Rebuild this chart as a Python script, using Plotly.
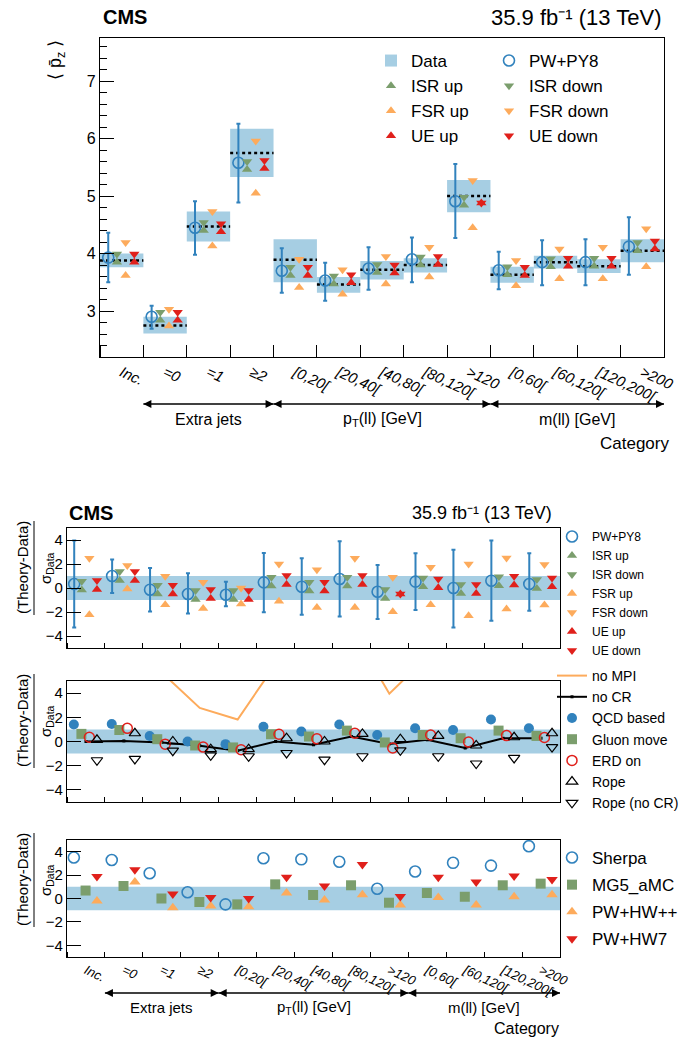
import numpy as np
import plotly.graph_objects as go

# ---------------- data ----------------
categories = ["Inc.", "=0", "=1", "\u22652", "[0,20[", "[20,40[", "[40,80[", "[80,120[", ">120",
              "[0,60[", "[60,120[", "[120,200[", ">200"]
group_names = ["Extra jets", "p<sub>T</sub>(ll) [GeV]", "m(ll) [GeV]"]
group_first_bin = [1, 4, 9]
group_last_bin = [3, 8, 12]

# top panel: <p_z>
data_val = [3.88, 2.75, 4.47, 5.75, 3.89, 3.46, 3.72, 3.80, 5.00, 3.63, 3.85, 3.78, 4.05]
data_lo = [3.76, 2.61, 4.21, 5.33, 3.50, 3.32, 3.55, 3.67, 4.72, 3.49, 3.74, 3.66, 3.85]
data_hi = [4.00, 2.90, 4.73, 6.17, 4.25, 3.59, 3.87, 3.92, 5.28, 3.77, 3.96, 3.90, 4.25]
pwpy8 = [3.93, 2.90, 4.45, 5.58, 3.70, 3.53, 3.74, 3.90, 4.91, 3.71, 3.85, 3.85, 4.12]
pwpy8_lo = [3.50, 2.69, 3.98, 4.89, 3.32, 3.18, 3.37, 3.50, 4.27, 3.38, 3.45, 3.45, 3.63]
pwpy8_hi = [4.36, 3.09, 4.91, 6.26, 4.09, 3.84, 4.11, 4.28, 5.56, 4.03, 4.23, 4.25, 4.63]
isr_up = [3.85, 2.84, 4.40, 5.46, 3.62, 3.47, 3.67, 3.80, 4.84, 3.63, 3.77, 3.78, 4.05]
isr_down = [3.99, 2.98, 4.54, 5.60, 3.76, 3.61, 3.81, 3.94, 4.98, 3.77, 3.91, 3.92, 4.19]
fsr_up = [3.62, 2.74, 4.13, 5.05, 3.41, 3.29, 3.47, 3.59, 4.45, 3.44, 3.56, 3.56, 3.77]
fsr_down = [4.19, 3.03, 4.73, 5.96, 3.90, 3.72, 3.95, 4.11, 5.27, 3.88, 4.08, 4.11, 4.43]
ue_up = [3.85, 2.84, 4.38, 5.48, 3.62, 3.49, 3.66, 3.81, 4.88, 3.62, 3.78, 3.78, 4.08]
ue_down = [3.99, 2.98, 4.52, 5.62, 3.76, 3.63, 3.80, 3.95, 4.88, 3.76, 3.92, 3.92, 4.22]

# ratio panel 1: (Theory-Data)/sigma
r_pwpy8 = [0.33, 1.00, -0.14, -0.50, -0.56, 0.47, 0.11, 0.75, -0.31, 0.53, 0.00, 0.61, 0.33]
r_pwpy8_lo = [-3.29, -0.42, -1.95, -2.12, -1.53, -2.03, -2.23, -2.37, -2.59, -1.84, -3.29, -2.73, -1.89]
r_pwpy8_hi = [3.96, 2.37, 1.67, 1.23, 0.53, 2.92, 2.48, 3.90, 1.92, 2.90, 3.18, 3.96, 2.90]
r_isr_up = [-0.17, 0.63, -0.51, -0.95, -0.95, 0.16, -0.26, 0.16, -0.87, 0.10, -0.45, 0.19, -0.04]
r_isr_down = [0.57, 1.37, 0.23, -0.21, -0.21, 0.90, 0.48, 0.90, -0.13, 0.84, 0.29, 0.93, 0.70]
r_fsr_up = [-2.23, -0.08, -1.39, -1.70, -1.34, -1.11, -1.62, -1.62, -1.98, -1.39, -2.31, -1.75, -1.42]
r_fsr_down = [2.48, 1.87, 0.97, 0.47, 0.00, 2.00, 1.53, 2.48, 0.89, 1.73, 2.00, 2.50, 1.95]
r_ue_up = [-0.12, 0.63, -0.51, -0.87, -0.95, 0.30, -0.26, 0.30, -0.50, 0.02, -0.45, 0.24, 0.10]
r_ue_down = [0.62, 1.37, 0.23, -0.13, -0.21, 1.04, 0.48, 1.04, -0.50, 0.76, 0.29, 0.98, 0.84]

# ratio panel 2: colour reconnection / MPI
r_no_mpi = [12.0, 10.0, 5.7, 2.78, 1.82, 6.4, 8.5, 9.3, 3.95, 7.0, 9.0, 10.0, 9.0]
r_no_cr = [0.00, 0.05, -0.08, -0.35, -0.76, 0.00, -0.27, 0.41, -0.20, 0.14, -0.54, 0.27, 0.27]
r_qcd = [1.41, 1.44, 0.46, 0.00, -0.22, 1.22, 0.82, 1.41, 0.54, 1.09, 0.95, 1.82, 1.09]
r_gluon = [0.63, 0.95, 0.19, -0.33, -0.49, 0.60, 0.41, 0.90, -0.08, 0.54, 0.27, 0.90, 0.46]
r_erd = [0.35, 1.09, -0.22, -0.46, -0.68, 0.60, 0.22, 0.68, -0.54, 0.54, -0.05, 0.49, 0.33]
r_rope = [0.14, 0.68, 0.00, -0.63, -0.63, 0.27, 0.00, 0.63, 0.19, 0.46, -0.33, 0.35, 0.68]
r_rope_nocr = [-1.55, -1.44, -0.76, -1.14, -1.22, -0.95, -1.50, -1.22, -0.73, -1.22, -1.82, -1.36, -0.46]

# ratio panel 3: other generators
r_sherpa = [3.50, 3.29, 2.16, 0.53, -0.50, 3.44, 3.35, 3.14, 0.83, 2.31, 3.05, 2.81, 4.47]
r_mg5 = [0.68, 1.07, 0.00, -0.30, -0.50, 1.21, 0.30, 1.13, -0.36, 0.47, 0.15, 1.13, 1.27]
r_hwpp = [-0.21, 1.42, -0.80, -0.65, -0.71, 0.47, -0.12, 0.33, -0.56, 0.09, -0.56, 0.15, 0.33]
r_hw7 = [1.87, 2.46, 0.39, 0.09, 0.00, 1.81, 1.07, 2.90, 0.18, 1.81, 1.42, 1.93, 1.63]

band = [-1.0, 1.0]

# ---------------- style ----------------
W, H = 685, 1037
FONT = "Liberation Sans, Arial, Helvetica, sans-serif"
BLUE = "#3182bd"
BOX = "#a6cee3"
GREEN = "#7b9e6d"
ORANGE = "#fdab5c"
RED = "#e0201b"

n = len(categories)
idx = np.arange(n)
centers = idx + 0.5
edges = np.arange(n + 1)
off = dict(a=0.19, b=0.39, c=0.59, d=0.79)


def px(x):
    return x / W


def py(y):
    return 1 - y / H


fig = go.Figure()

# ---------- top panel ----------
fig.add_trace(go.Bar(x=centers, base=data_lo, y=np.array(data_hi) - np.array(data_lo), width=1.0,
                     marker=dict(color=BOX, line=dict(width=0)), name="Data",
                     legend="legend", xaxis="x", yaxis="y"))
seg_x, seg_y = [], []
for i in range(n):
    seg_x += [edges[i], edges[i + 1], None]
    seg_y += [data_val[i], data_val[i], None]
fig.add_trace(go.Scatter(x=seg_x, y=seg_y, mode="lines", line=dict(color="black", width=2.5, dash="dot"),
                         showlegend=False, xaxis="x", yaxis="y"))

TRI = 9


def tri(xv, yv, sym, col, name, leg, grp=None, xa="x", ya="y", size=TRI, show=True):
    return go.Scatter(x=xv, y=yv, mode="markers", name=name,
                      marker=dict(symbol=sym, color=col, size=size, line=dict(width=0)),
                      legend=leg, legendgroup=grp, showlegend=show, xaxis=xa, yaxis=ya)


pw = np.array(pwpy8)
fig.add_trace(go.Scatter(x=idx + off["a"], y=pwpy8, mode="markers", name="PW+PY8",
                         marker=dict(symbol="circle-open", color=BLUE, size=11, line=dict(width=1.6)),
                         error_y=dict(type="data", symmetric=False, array=np.array(pwpy8_hi) - pw,
                                      arrayminus=pw - np.array(pwpy8_lo), color=BLUE, thickness=2, width=2),
                         legend="legend2", xaxis="x", yaxis="y"))
fig.add_trace(tri(idx + off["b"], isr_up, "triangle-up", GREEN, "ISR up", "legend"))
fig.add_trace(tri(idx + off["b"], isr_down, "triangle-down", GREEN, "ISR down", "legend2"))
fig.add_trace(tri(idx + off["c"], fsr_up, "triangle-up", ORANGE, "FSR up", "legend"))
fig.add_trace(tri(idx + off["c"], fsr_down, "triangle-down", ORANGE, "FSR down", "legend2"))
fig.add_trace(tri(idx + off["d"], ue_up, "triangle-up", RED, "UE up", "legend"))
fig.add_trace(tri(idx + off["d"], ue_down, "triangle-down", RED, "UE down", "legend2"))

# ---------- bands for ratio panels ----------
for k in (2, 3, 4):
    fig.add_trace(go.Scatter(x=[0, n, n, 0, 0], y=[band[0], band[0], band[1], band[1], band[0]],
                             fill="toself", fillcolor=BOX, line=dict(width=0), mode="lines",
                             showlegend=False, hoverinfo="skip", xaxis=f"x{k}", yaxis=f"y{k}"))

# ---------- ratio panel 1 ----------
rp = np.array(r_pwpy8)
fig.add_trace(go.Scatter(x=idx + off["a"], y=r_pwpy8, mode="markers", name="PW+PY8",
                         marker=dict(symbol="circle-open", color=BLUE, size=11, line=dict(width=1.6)),
                         error_y=dict(type="data", symmetric=False, array=np.array(r_pwpy8_hi) - rp,
                                      arrayminus=rp - np.array(r_pwpy8_lo), color=BLUE, thickness=2, width=2),
                         legend="legend3", xaxis="x2", yaxis="y2"))
fig.add_trace(tri(idx + off["b"], r_isr_up, "triangle-up", GREEN, "ISR up", "legend3", None, "x2", "y2"))
fig.add_trace(tri(idx + off["b"], r_isr_down, "triangle-down", GREEN, "ISR down", "legend3", None, "x2", "y2"))
fig.add_trace(tri(idx + off["c"], r_fsr_up, "triangle-up", ORANGE, "FSR up", "legend3", None, "x2", "y2"))
fig.add_trace(tri(idx + off["c"], r_fsr_down, "triangle-down", ORANGE, "FSR down", "legend3", None, "x2", "y2"))
fig.add_trace(tri(idx + off["d"], r_ue_up, "triangle-up", RED, "UE up", "legend3", None, "x2", "y2"))
fig.add_trace(tri(idx + off["d"], r_ue_down, "triangle-down", RED, "UE down", "legend3", None, "x2", "y2"))

# ---------- ratio panel 2 ----------
fig.add_trace(go.Scatter(x=centers, y=r_no_mpi, mode="lines", name="no MPI", line=dict(color=ORANGE, width=2),
                         legend="legend4", xaxis="x3", yaxis="y3"))
fig.add_trace(go.Scatter(x=centers, y=r_no_cr, mode="lines+markers", name="no CR",
                         line=dict(color="black", width=2), marker=dict(size=3, symbol="square", color="black"),
                         legend="legend4", xaxis="x3", yaxis="y3"))
fig.add_trace(go.Scatter(x=idx + 0.18, y=r_qcd, mode="markers", name="QCD based",
                         marker=dict(symbol="circle", color=BLUE, size=10), legend="legend4", xaxis="x3", yaxis="y3"))
fig.add_trace(go.Scatter(x=idx + 0.38, y=r_gluon, mode="markers", name="Gluon move",
                         marker=dict(symbol="square", color=GREEN, size=10), legend="legend4", xaxis="x3", yaxis="y3"))
fig.add_trace(go.Scatter(x=idx + 0.59, y=r_erd, mode="markers", name="ERD on",
                         marker=dict(symbol="circle-open", color=RED, size=10, line=dict(width=1.5)),
                         legend="legend4", xaxis="x3", yaxis="y3"))
fig.add_trace(go.Scatter(x=idx + 0.79, y=r_rope, mode="markers", name="Rope",
                         marker=dict(symbol="triangle-up-open", color="black", size=10, line=dict(width=1.2)),
                         legend="legend4", xaxis="x3", yaxis="y3"))
fig.add_trace(go.Scatter(x=idx + 0.79, y=r_rope_nocr, mode="markers", name="Rope (no CR)",
                         marker=dict(symbol="triangle-down-open", color="black", size=10, line=dict(width=1.2)),
                         legend="legend4", xaxis="x3", yaxis="y3"))

# ---------- ratio panel 3 ----------
fig.add_trace(go.Scatter(x=idx + 0.18, y=r_sherpa, mode="markers", name="Sherpa",
                         marker=dict(symbol="circle-open", color=BLUE, size=11, line=dict(width=1.6)),
                         legend="legend5", legendgroup="s1", xaxis="x4", yaxis="y4"))
fig.add_trace(go.Scatter(x=idx + 0.49, y=r_mg5, mode="markers", name="MG5_aMC",
                         marker=dict(symbol="square", color=GREEN, size=10),
                         legend="legend5", legendgroup="s2", xaxis="x4", yaxis="y4"))
fig.add_trace(tri(idx + 0.79, r_hwpp, "triangle-up", ORANGE, "PW+HW++", "legend5", "s3", "x4", "y4", size=10))
fig.add_trace(tri(idx + 0.79, r_hw7, "triangle-down", RED, "PW+HW7", "legend5", "s4", "x4", "y4", size=10))


# ---------- category-group arrows (drawn on hidden helper axes) ----------
def group_arrows(xa, ya):
    ax_, ay_, sym = [], [], []
    lx, ly = [], []
    for a, b in zip(group_first_bin, group_last_bin):
        lx += [edges[a], edges[b + 1], None]
        ly += [0, 0, None]
        ax_ += [edges[a], edges[b + 1]]
        ay_ += [0, 0]
        sym += ["arrow-left", "arrow-right"]
    fig.add_trace(go.Scatter(x=lx, y=ly, mode="lines", line=dict(color="black", width=1.6),
                             showlegend=False, hoverinfo="skip", xaxis=xa, yaxis=ya))
    fig.add_trace(go.Scatter(x=ax_, y=ay_, mode="markers", cliponaxis=False,
                             marker=dict(symbol=sym, size=8, color="black", line=dict(width=0)),
                             showlegend=False, hoverinfo="skip", xaxis=xa, yaxis=ya))


group_arrows("x", "y5")
group_arrows("x4", "y6")

# ---------- axes ----------
common = dict(showline=True, linecolor="black", linewidth=1.2, mirror=True, zeroline=False, showgrid=False)


def xax(dom, anchor, labels, fsize, tlen):
    return dict(domain=dom, range=[0, n], anchor=anchor, tickmode="array", tickvals=centers,
                ticktext=categories, ticks="", showticklabels=labels, tickangle=25,
                tickfont=dict(size=fsize, style="italic", color="black"),
                minor=dict(tickmode="array", tickvals=edges, ticks="inside", ticklen=tlen,
                           tickwidth=1.2, tickcolor="black"), **common)


def yrat(dom, anchor):
    return dict(domain=dom, range=[-5, 5], anchor=anchor, tickmode="array", tickvals=[-4, -2, 0, 2, 4],
                ticks="inside", ticklen=14, tickwidth=1.2, tickcolor="black",
                tickfont=dict(size=15, color="black"), **common)


def yhidden(yc, anchor):
    return dict(domain=[py(yc + 5), py(yc - 5)], range=[-1, 1], anchor=anchor, visible=False,
                fixedrange=True)


xdom_top = [px(100), px(664)]
xdom_bot = [px(67), px(560)]
ptop = (38, 357)
p1 = (528, 648)
p2 = (681, 802)
p3 = (840, 957)
arrow_top, text_top, cat_top = 404, 419, 443
arrow_bot, text_bot, cat_bot = 993, 1007, 1028

fig.update_layout(
    xaxis=xax(xdom_top, "y", True, 15, 12),
    yaxis=dict(domain=[py(ptop[1]), py(ptop[0])], range=[2.2, 7.75], anchor="x", tickmode="linear", tick0=0,
               dtick=1, ticks="inside", ticklen=14, tickwidth=1.2, tickcolor="black",
               tickfont=dict(size=16, color="black"),
               minor=dict(tick0=0, dtick=0.2, ticks="inside", ticklen=7, tickwidth=1.2, tickcolor="black"),
               **common),
    xaxis2=xax(xdom_bot, "y2", False, 13, 5),
    yaxis2=yrat([py(p1[1]), py(p1[0])], "x2"),
    xaxis3=xax(xdom_bot, "y3", False, 13, 5),
    yaxis3=yrat([py(p2[1]), py(p2[0])], "x3"),
    xaxis4=xax(xdom_bot, "y4", True, 13, 5),
    yaxis4=yrat([py(p3[1]), py(p3[0])], "x4"),
    yaxis5=yhidden(arrow_top, "x"),
    yaxis6=yhidden(arrow_bot, "x4"),
)

leg_common = dict(bgcolor="rgba(0,0,0,0)", borderwidth=0, xanchor="left", yanchor="top")
fig.update_layout(
    legend=dict(x=px(371), y=py(43), font=dict(size=17, family=FONT, color="black"), **leg_common),
    legend2=dict(x=px(489), y=py(43), font=dict(size=17, family=FONT, color="black"), **leg_common),
    legend3=dict(x=px(552), y=py(522), font=dict(size=12, family=FONT, color="black"), **leg_common),
    legend4=dict(x=px(552), y=py(660), font=dict(size=14, family=FONT, color="black"), **leg_common),
    legend5=dict(x=px(552), y=py(840), font=dict(size=17, family=FONT, color="black"), tracegroupgap=2,
                 **leg_common),
)

# ---------- annotations ----------
ann = []


def note(x, y, text, size, xanchor="center", angle=0, xref="paper"):
    ann.append(dict(x=x, y=py(y), xref=xref, yref="paper", text=text, showarrow=False, xanchor=xanchor,
                    yanchor="middle", textangle=angle, font=dict(size=size, family=FONT, color="black")))


note(px(101), 17, "<b>CMS</b>", 20, "left")
note(px(663), 17, "35.9 fb\u207b\u00b9 (13 TeV)", 22, "right")
note(px(57), 60, "\u27e8 p\u0304<sub>z</sub> \u27e9", 18, "center", -90)
note(px(67), 513, "<b>CMS</b>", 20, "left")
note(px(554), 513, "35.9 fb\u207b\u00b9 (13 TeV)", 18, "right")

for name, a, b in zip(group_names, group_first_bin, group_last_bin):
    note((edges[a] + edges[b + 1]) / 2, text_top, name, 16, "center", 0, "x")
    note((edges[a] + edges[b + 1]) / 2, text_bot, name, 15, "center", 0, "x4")
note(px(671), cat_top, "Category", 17, "right")
note(px(561), cat_bot, "Category", 16, "right")

shapes = []
for top in (p1[0], p2[0], p3[0]):
    yc = top + 40
    note(px(22), yc, "(Theory-Data)", 15, "center", -90)
    note(px(46), yc, "\u03c3<sub>Data</sub>", 15, "center", -90)
    shapes.append(dict(type="line", xref="paper", yref="paper", x0=px(34), x1=px(34),
                       y0=py(yc - 47), y1=py(yc + 47), line=dict(color="black", width=1)))

fig.update_layout(
    annotations=ann, shapes=shapes,
    width=W, height=H, margin=dict(l=0, r=0, t=0, b=0, autoexpand=False),
    paper_bgcolor="white", plot_bgcolor="rgba(0,0,0,0)", barmode="overlay",
    font=dict(family=FONT, color="black"),
)

fig.write_html("out.html", config={"displayModeBar": False},
               post_script="document.body.style.margin='0';")
